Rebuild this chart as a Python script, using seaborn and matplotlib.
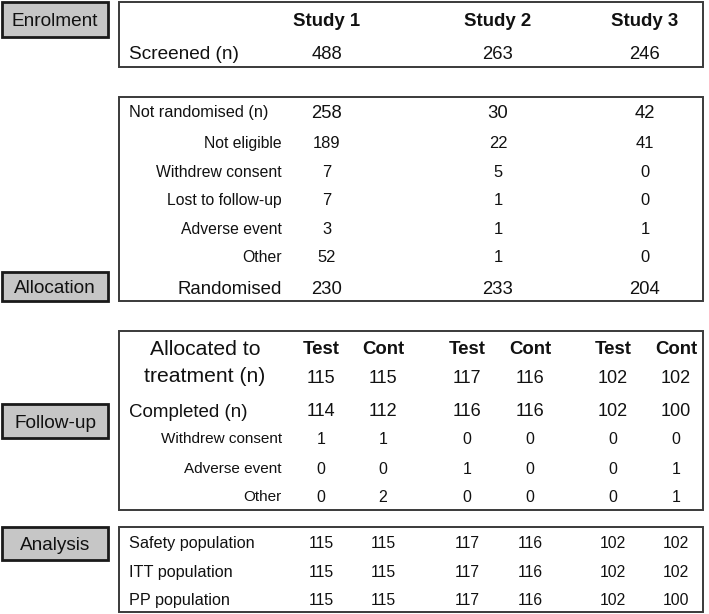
import matplotlib
matplotlib.use("Agg")
import matplotlib.pyplot as plt
from matplotlib.patches import Rectangle
import seaborn as sns

sns.set_theme(style="white")
plt.rcParams['font.family'] = ['Liberation Sans', 'DejaVu Sans']

# ---------------- data ----------------
studies = ["Study 1", "Study 2", "Study 3"]
screened = [488, 263, 246]

not_rand_labels = ["Not eligible", "Withdrew consent", "Lost to follow-up", "Adverse event", "Other"]
not_randomised = [258, 30, 42]
not_rand_values = [[189, 22, 41], [7, 5, 0], [7, 1, 0], [3, 1, 1], [52, 1, 0]]
randomised = [230, 233, 204]

arms = ["Test", "Cont", "Test", "Cont", "Test", "Cont"]
allocated = [115, 115, 117, 116, 102, 102]
completed = [114, 112, 116, 116, 102, 100]
fu_labels = ["Withdrew consent", "Adverse event", "Other"]
fu_values = [[1, 1, 0, 0, 0, 0], [0, 0, 1, 0, 0, 1], [0, 2, 0, 0, 0, 1]]

an_labels = ["Safety population", "ITT population", "PP population"]
an_values = [[115, 115, 117, 116, 102, 102],
             [115, 115, 117, 116, 102, 102],
             [115, 115, 117, 116, 102, 100]]

stage_labels = ["Enrolment", "Allocation", "Follow-up", "Analysis"]

# ---------------- layout ----------------
W, H = 709, 614
fig = plt.figure(figsize=(W / 100, H / 100), dpi=100)
ax = fig.add_axes([0, 0, 1, 1])
ax.set_xlim(0, W)
ax.set_ylim(H, 0)
ax.axis("off")

def put(x, y, s, size_px, ha="center", bold=False):
    # y is the visual centre of the capital letters; place baseline accordingly
    ax.text(x, y + 0.358 * size_px, s, ha=ha, va="baseline",
            fontsize=size_px * 0.72, fontweight="bold" if bold else "normal",
            color="#111111")

study_x = [327, 498, 645]
arm_x = [321, 383, 467, 530, 613, 676]
box_left, box_right = 119, 703
lab_x_left = 129
lab_x_right = 282

def mainbox(y0, y1):
    ax.add_patch(Rectangle((box_left, y0), box_right - box_left, y1 - y0,
                           fill=False, edgecolor="#3a3a3a", linewidth=1.4))

def stagebox(y0, y1, text):
    ax.add_patch(Rectangle((2, y0), 106, y1 - y0, facecolor="#c6c6c6",
                           edgecolor="#1a1a1a", linewidth=2.0))
    put(55, (y0 + y1) / 2, text, 19)

stage_y = [(2, 37), (272, 301), (404, 438), (527, 560)]
for (y0, y1), t in zip(stage_y, stage_labels):
    stagebox(y0, y1, t)

# Box 1: enrolment
mainbox(2, 67)
for x, s in zip(study_x, studies):
    put(x, 19, s, 18.7, bold=True)
put(lab_x_left, 52, "Screened (n)", 19, ha="left")
for x, v in zip(study_x, screened):
    put(x, 52, str(v), 18.5)

# Box 2: allocation
mainbox(97, 301)
put(lab_x_left, 111, "Not randomised (n)", 16.2, ha="left")
for x, v in zip(study_x, not_randomised):
    put(x, 111, str(v), 18.5)
rows_y = [142, 171, 199, 228, 256]
for y, lab, vals in zip(rows_y, not_rand_labels, not_rand_values):
    put(lab_x_right, y, lab, 15.8, ha="right")
    for x, v in zip(study_x, vals):
        put(x, y, str(v), 16.5)
put(lab_x_right, 287, "Randomised", 18.7, ha="right")
for x, v in zip(study_x, randomised):
    put(x, 287, str(v), 18.5)

# Box 3: follow-up
mainbox(331, 510)
put(205, 347, "Allocated to", 21.2)
put(205, 374, "treatment (n)", 21.2)
for x, a in zip(arm_x, arms):
    put(x, 347, a, 18.6, bold=True)
for x, v in zip(arm_x, allocated):
    put(x, 377, str(v), 18)
put(lab_x_left, 410, "Completed (n)", 18.8, ha="left")
for x, v in zip(arm_x, completed):
    put(x, 410, str(v), 18)
fu_y = [438, 468, 496]
for y, lab, vals in zip(fu_y, fu_labels, fu_values):
    put(lab_x_right, y, lab, 15.3, ha="right")
    for x, v in zip(arm_x, vals):
        put(x, y, str(v), 16)

# Box 4: analysis
mainbox(527, 612)
an_y = [542, 571, 599]
for y, lab, vals in zip(an_y, an_labels, an_values):
    put(lab_x_left, y, lab, 16.2, ha="left")
    for x, v in zip(arm_x, vals):
        put(x, y, str(v), 15.8)

fig.savefig("out.png", dpi=100, facecolor="white")
